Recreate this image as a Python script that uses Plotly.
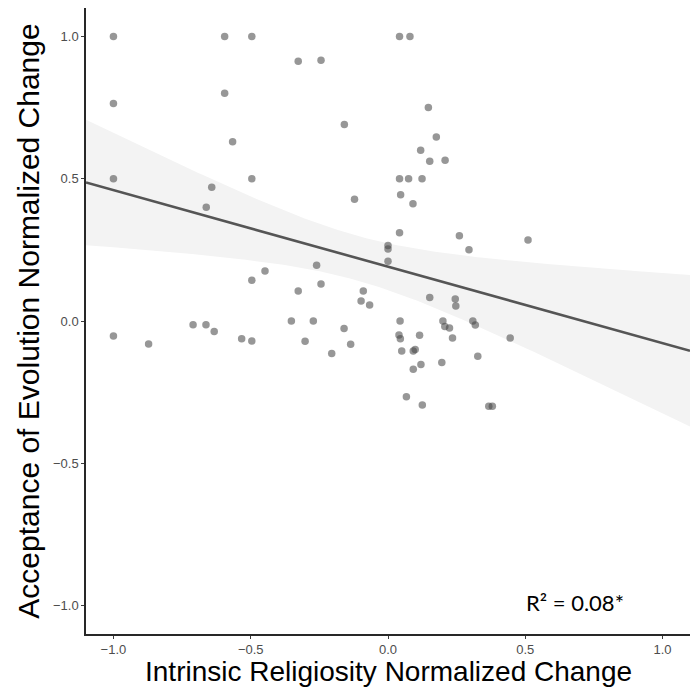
import numpy as np
import plotly.graph_objects as go

# Normalized change scores per participant
religiosity_change = [
    -1.0, -0.595, -0.496, -0.595, -1.0, -0.566, -1.0, -0.496, -0.642, -0.662,
    0.042, 0.08, -0.327, -0.244, 0.147, -0.159, 0.176, 0.119, 0.152, 0.208,
    0.042, 0.075, 0.124, 0.046, -0.122, 0.091, -0.448, -0.496, -0.71, -0.663,
    -0.633, -1.0, -0.872, -0.533, -0.496, 0.042, 0.26, 0.295, 0.0, 0.0,
    0.0, -0.26, -0.244, -0.327, -0.09, -0.098, -0.067, 0.152, 0.245, 0.247,
    -0.352, -0.272, 0.044, 0.2, 0.309, 0.318, 0.207, 0.224, -0.16, 0.04,
    0.045, 0.115, 0.235, -0.302, -0.136, -0.205, 0.05, 0.092, 0.099, 0.327,
    0.196, 0.12, 0.092, 0.067, 0.125, 0.367, 0.38, 0.445, 0.51,
]
evolution_change = [
    1.0, 1.0, 1.0, 0.80, 0.764, 0.63, 0.50, 0.50, 0.47, 0.40,
    1.0, 1.0, 0.913, 0.916, 0.75, 0.691, 0.647, 0.60, 0.561, 0.565,
    0.50, 0.50, 0.50, 0.444, 0.428, 0.412, 0.176, 0.143, -0.013, -0.013,
    -0.037, -0.053, -0.081, -0.062, -0.07, 0.31, 0.30, 0.25, 0.265, 0.253,
    0.21, 0.196, 0.13, 0.105, 0.105, 0.07, 0.056, 0.083, 0.077, 0.053,
    0.0, 0.0, 0.0, 0.0, 0.0, -0.014, -0.019, -0.025, -0.026, -0.049,
    -0.062, -0.05, -0.06, -0.071, -0.082, -0.114, -0.105, -0.105, -0.1, -0.124,
    -0.146, -0.153, -0.17, -0.266, -0.295, -0.30, -0.30, -0.06, 0.285,
]

x_ticks = [-1.0, -0.5, 0.0, 0.5, 1.0]
y_ticks = [-1.0, -0.5, 0.0, 0.5, 1.0]
x_title = "Intrinsic Religiosity Normalized Change"
y_title = "Acceptance of Evolution Normalized Change"
r2_label = "R² = 0.08*"

# Ordinary least squares fit with a 95% confidence band for the mean
x = np.array(religiosity_change)
y = np.array(evolution_change)
n = len(x)
slope, intercept = np.polyfit(x, y, 1)
resid = y - (intercept + slope * x)
s = np.sqrt(np.sum(resid ** 2) / (n - 2))
sxx = np.sum((x - x.mean()) ** 2)
t_crit = 1.9913  # t(0.975, df ~ 77)
grid = np.linspace(-1.1, 1.1, 200)
fit = intercept + slope * grid
se = s * np.sqrt(1.0 / n + (grid - x.mean()) ** 2 / sxx)
upper = fit + t_crit * se
lower = fit - t_crit * se

fig = go.Figure()
fig.add_trace(go.Scatter(
    x=np.concatenate([grid, grid[::-1]]),
    y=np.concatenate([upper, lower[::-1]]),
    fill="toself", fillcolor="rgb(243,243,243)",
    line=dict(width=0), hoverinfo="skip", mode="lines",
))
fig.add_trace(go.Scatter(
    x=religiosity_change, y=evolution_change, mode="markers",
    marker=dict(size=7.5, color="rgba(70,70,70,0.56)", line=dict(width=0)),
))
fig.add_trace(go.Scatter(
    x=grid, y=fit, mode="lines",
    line=dict(color="rgb(85,85,85)", width=2.6),
))

axis_common = dict(
    showgrid=False, zeroline=False, showline=True,
    linecolor="rgb(40,40,40)", linewidth=1.5,
    ticks="outside", ticklen=3, tickwidth=1, tickcolor="rgb(60,60,60)",
    tickfont=dict(family="Liberation Sans, Arial", size=13, color="rgb(77,77,77)"),
    tickformat=".1f", mirror=False,
)

fig.update_layout(
    width=692, height=688,
    margin=dict(l=86, r=2, t=8, b=54),
    paper_bgcolor="white", plot_bgcolor="white",
    showlegend=False,
    xaxis=dict(range=[-1.1, 1.1], tickvals=x_ticks, **axis_common),
    yaxis=dict(
        range=[-1.1, 1.1], tickvals=y_ticks, **axis_common,
        title=dict(text=y_title,
                   font=dict(family="Liberation Sans, Arial", size=30, color="black"),
                   standoff=4),
    ),
    annotations=[
        dict(
            x=0.68, y=-0.99, xref="x", yref="y", text=r2_label, showarrow=False,
            font=dict(family="Lato, Open Sans", size=22, color="black"),
        ),
        dict(
            x=0.5, y=-0.0885, xref="paper", yref="paper", text=x_title,
            showarrow=False, xanchor="center", yanchor="bottom",
            font=dict(family="Liberation Sans, Arial", size=28, color="black"),
        ),
    ],
)

fig.write_html("out.html")
